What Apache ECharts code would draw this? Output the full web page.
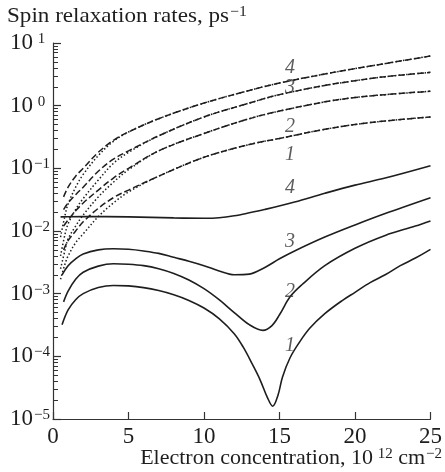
<!DOCTYPE html>
<html>
<head>
<meta charset="utf-8">
<script src="https://cdn.jsdelivr.net/npm/echarts@6/dist/echarts.min.js"></script>
<style>html,body{margin:0;padding:0;background:#fff}#c{width:445px;height:472px}</style>
</head>
<body>
<div id="c"></div>
<script>
// ---- data (x: electron concentration, 10^12 cm^-2 ; y: rate, ps^-1) ----
const solid1 = [[0.6,3.2e-4],[1,5.5e-4],[1.5,8e-4],[2,1.0e-3],[3,1.25e-3],[4,1.35e-3],[5,1.33e-3],[6,1.25e-3],[7,1.12e-3],[8,9.6e-4],[9,7.8e-4],[10,5.9e-4],[11,4e-4],[12,2.3e-4],[12.6,1.4e-4],[13.2,7.5e-5],[13.7,4.3e-5],[14.2,2.2e-5],[14.55,1.6e-5],[14.9,2.4e-5],[15.2,4.7e-5],[15.7,9.5e-5],[16.3,1.65e-4],[17,2.8e-4],[18,4.8e-4],[19.2,7.9e-4],[20,1.05e-3],[21,1.5e-3],[22,2.0e-3],[23,2.8e-3],[24,3.7e-3],[25,5.1e-3]];
const solid2 = [[0.7,7.4e-4],[1,1.1e-3],[1.5,1.7e-3],[2,2.2e-3],[3,2.75e-3],[4,3.0e-3],[5,2.95e-3],[6,2.8e-3],[7,2.5e-3],[8,2.1e-3],[9,1.65e-3],[10,1.2e-3],[11,8e-4],[12,5e-4],[13,3.2e-4],[13.9,2.6e-4],[14.5,3.1e-4],[15,4.6e-4],[15.7,8.9e-4],[16.5,1.4e-3],[18,2.8e-3],[20,5.3e-3],[22,8.5e-3],[24,1.2e-2],[25,1.45e-2]];
const solid3 = [[0.6,2e-3],[1,2.8e-3],[1.5,3.6e-3],[2,4.3e-3],[3,5e-3],[4,5.2e-3],[5,5.1e-3],[6,4.8e-3],[7,4.4e-3],[8,3.8e-3],[9,3.3e-3],[10,2.8e-3],[11,2.3e-3],[12,2.0e-3],[13,2.05e-3],[14,2.6e-3],[15,3.6e-3],[16,4.8e-3],[18,8e-3],[20,1.25e-2],[22,1.9e-2],[25,3.4e-2]];
const solid4 = [[0.5,0.0168],[2,0.017],[5,0.0168],[8,0.0162],[10,0.016],[11,0.0163],[12,0.0175],[13,0.0195],[14,0.022],[16,0.029],[18,0.040],[20,0.054],[22,0.07],[25,0.11]];

const dashed1 = [[0.7,0.005],[1,0.007],[1.5,0.01],[2,0.014],[3,0.023],[4,0.034],[5,0.045],[7,0.075],[10,0.15],[13,0.24],[15,0.3],[18,0.42],[20,0.5],[22,0.57],[25,0.66]];
const dashed2 = [[0.7,0.012],[1,0.015],[1.5,0.021],[2,0.028],[3,0.045],[4,0.07],[5,0.1],[7,0.19],[10,0.36],[13,0.62],[15,0.82],[18,1.15],[20,1.35],[22,1.5],[25,1.7]];
const dashed3 = [[0.7,0.022],[1,0.028],[1.5,0.038],[2,0.05],[3,0.09],[4,0.14],[5,0.19],[7,0.33],[10,0.66],[13,1.1],[15,1.5],[18,2.1],[20,2.5],[22,2.9],[25,3.4]];
const dashed4 = [[0.7,0.035],[1,0.05],[1.5,0.075],[2,0.10],[3,0.18],[4,0.28],[5,0.38],[7,0.62],[10,1.1],[13,1.75],[15,2.3],[18,3.2],[20,3.9],[22,4.7],[25,6.2]];

const dotted1 = [[0.5,0.0017],[0.8,0.003],[1,0.004],[1.5,0.0065],[2,0.009],[3,0.017],[4,0.028],[5,0.042],[7,0.075],[10,0.15],[13,0.24],[15,0.3],[18,0.42],[20,0.5],[22,0.57],[25,0.66]];
const dotted2 = [[0.5,0.0025],[0.8,0.005],[1,0.0075],[1.5,0.012],[2,0.018],[3,0.035],[4,0.06],[5,0.095],[7,0.19],[10,0.36],[13,0.62],[15,0.82],[18,1.15],[20,1.35],[22,1.5],[25,1.7]];
const dotted3 = [[0.5,0.004],[0.8,0.009],[1,0.013],[1.5,0.022],[2,0.033],[3,0.065],[4,0.12],[5,0.18],[7,0.33],[10,0.66],[13,1.1],[15,1.5],[18,2.1],[20,2.5],[22,2.9],[25,3.4]];
const dotted4 = [[0.5,0.008],[0.8,0.018],[1,0.027],[1.5,0.05],[2,0.08],[3,0.16],[4,0.27],[5,0.38],[7,0.62],[10,1.1],[13,1.75],[15,2.3],[18,3.2],[20,3.9],[22,4.7],[25,6.2]];

// curve number labels [x, y, text]
const curveLabels = [[15.7,4.1,'4'],[15.7,1.9,'3'],[15.7,0.46,'2'],[15.7,0.164,'1'],[15.7,0.049,'4'],[15.7,0.0068,'3'],[15.7,0.00107,'2'],[15.7,1.5e-4,'1']];

const xMin = 0, xMax = 25, xInterval = 5;
const yMin = 1e-5, yMax = 10;
const yMinorTicks = [];
for (let e = -5; e < 1; e++) for (let m = 2; m <= 9; m++) yMinorTicks.push(m * Math.pow(10, e));

const titleText = 'Spin relaxation rates, ps{sup|−1}';
const xNameText = 'Electron concentration, 10{sup| 12} cm{sup|−2}';

// ---- chart ----
const FONT = '"Liberation Serif", "Times New Roman", serif';
const INK = '#1e1e1e';
const chart = echarts.init(document.getElementById('c'), null, {renderer: 'canvas'});

function line(data, kind) {
  const ls = {color: INK, width: kind === 'solid' ? 1.6 : 1.5};
  if (kind === 'dashed') ls.type = [6.5, 3];
  if (kind === 'dotted') ls.type = [1.5, 2.2];
  return {type: 'line', data: data, showSymbol: false, symbol: 'none', smooth: 0.35,
          lineStyle: ls, silent: true, z: 3};
}

const textSup = {sup: {fontSize: 15, fontFamily: FONT, fill: INK, verticalAlign: 'top', padding: [0, 0, 8, 1]}};

chart.setOption({
  animation: false,
  backgroundColor: '#fff',
  graphic: [
    {type: 'text', left: 7, top: 5, scaleX: 1.05, originX: 0,
     style: {text: titleText, fontFamily: FONT, fontSize: 22, fill: INK, rich: textSup}},
    {type: 'text', right: 3, bottom: 3,
     style: {text: xNameText, fontFamily: FONT, fontSize: 22, fill: INK, rich: textSup}}
  ],
  grid: {left: 53, right: 14, top: 43, bottom: 53, containLabel: false},
  xAxis: {
    type: 'value', min: xMin, max: xMax, interval: xInterval,
    axisLine: {show: true, lineStyle: {color: '#333', width: 1.2}},
    axisTick: {show: true, inside: true, length: 7, lineStyle: {color: '#333', width: 1.2}},
    axisLabel: {fontFamily: FONT, fontSize: 23, color: INK, margin: 6},
    splitLine: {show: false}
  },
  yAxis: [
    {
      type: 'log', logBase: 10, min: yMin, max: yMax,
      axisLine: {show: true, lineStyle: {color: '#333', width: 1.2}},
      axisTick: {show: true, inside: true, length: 8, lineStyle: {color: '#333', width: 1.2}},
      axisLabel: {
        fontFamily: FONT, fontSize: 23, color: INK, margin: 43, align: 'left',
        formatter: function (v) {
          const e = Math.round(Math.log10(v));
          return '10{sup|' + (e < 0 ? '−' + (-e) : ' ' + e) + '}';
        },
        rich: {sup: {fontSize: 15, fontFamily: FONT, color: INK, verticalAlign: 'top', padding: [0, 0, 8, 1]}}
      },
      splitLine: {show: false}
    },
    {
      type: 'log', logBase: 10, min: yMin, max: yMax, position: 'left', offset: 0,
      axisLine: {show: false},
      axisLabel: {show: false},
      axisTick: {show: true, inside: true, length: 5, customValues: yMinorTicks,
                 lineStyle: {color: '#333', width: 1}},
      splitLine: {show: false}
    }
  ],
  series: [
    line(solid1, 'solid'), line(solid2, 'solid'), line(solid3, 'solid'), line(solid4, 'solid'),
    line(dashed1, 'dashed'), line(dashed2, 'dashed'), line(dashed3, 'dashed'), line(dashed4, 'dashed'),
    line(dotted1, 'dotted'), line(dotted2, 'dotted'), line(dotted3, 'dotted'), line(dotted4, 'dotted'),
    {
      type: 'scatter', data: curveLabels, symbolSize: 0, silent: true, z: 5,
      label: {show: true, position: 'inside', formatter: function (p) { return p.data[2]; },
              fontFamily: FONT, fontSize: 20, fontStyle: 'italic', color: '#333'}
    }
  ]
});
</script>
</body>
</html>
